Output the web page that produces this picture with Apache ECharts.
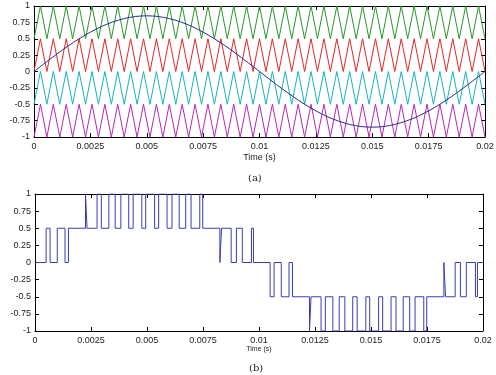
<!DOCTYPE html>
<html><head><meta charset="utf-8">
<script src="https://cdn.jsdelivr.net/npm/echarts@6/dist/echarts.min.js"></script>
<style>html,body{margin:0;padding:0;background:#fff}#c{width:496px;height:375px}</style>
</head><body><div id="c"></div>
<script>
// ---- tick labels ----
const xTickValues = [0, 0.0025, 0.005, 0.0075, 0.01, 0.0125, 0.015, 0.0175, 0.02];
const xTickLabels = ['0', '0.0025', '0.005', '0.0075', '0.01', '0.0125', '0.015', '0.0175', '0.02'];
const yTickValues = [-1, -0.75, -0.5, -0.25, 0, 0.25, 0.5, 0.75, 1];
const yTickLabels = ['-1', '-0.75', '-0.5', '-0.25', '0', '0.25', '0.5', '0.75', '1'];

// ---- (a) carriers: vertex times (valley, peak, valley, ...) ----
const carrierTimes = [0, 0.000286, 0.000571, 0.000857, 0.001143, 0.001429, 0.001714, 0.002,
  0.002286, 0.002571, 0.002857, 0.003143, 0.003429, 0.003714, 0.004,
  0.004286, 0.004571, 0.004857, 0.005143, 0.005429, 0.005714, 0.006,
  0.006286, 0.006571, 0.006857, 0.007143, 0.007429, 0.007714, 0.008,
  0.008286, 0.008571, 0.008857, 0.009143, 0.009429, 0.009714, 0.01,
  0.010286, 0.010571, 0.010857, 0.011143, 0.011429, 0.011714, 0.012,
  0.012286, 0.012571, 0.012857, 0.013143, 0.013429, 0.013714, 0.014,
  0.014286, 0.014571, 0.014857, 0.015143, 0.015429, 0.015714, 0.016,
  0.016286, 0.016571, 0.016857, 0.017143, 0.017429, 0.017714, 0.018,
  0.018286, 0.018571, 0.018857, 0.019143, 0.019429, 0.019714, 0.02];
// [valley, peak] of each carrier band
const carrierGreen = [0.5, 1];
const carrierRed = [0, 0.5];
const carrierCyan = [-0.5, 0];
const carrierMagenta = [-1, -0.5];

// ---- (a) reference sine ----
const sineTimes = [0, 0.0005, 0.001, 0.0015, 0.002, 0.0025, 0.003, 0.0035, 0.004, 0.0045,
  0.005, 0.0055, 0.006, 0.0065, 0.007, 0.0075, 0.008, 0.0085, 0.009, 0.0095,
  0.01, 0.0105, 0.011, 0.0115, 0.012, 0.0125, 0.013, 0.0135, 0.014, 0.0145,
  0.015, 0.0155, 0.016, 0.0165, 0.017, 0.0175, 0.018, 0.0185, 0.019, 0.0195, 0.02];
const sineValues = [0, 0.133, 0.263, 0.386, 0.5, 0.601, 0.688, 0.757, 0.808, 0.840,
  0.85, 0.840, 0.808, 0.757, 0.688, 0.601, 0.5, 0.386, 0.263, 0.133,
  0, -0.133, -0.263, -0.386, -0.5, -0.601, -0.688, -0.757, -0.808, -0.840,
  -0.85, -0.840, -0.808, -0.757, -0.688, -0.601, -0.5, -0.386, -0.263, -0.133, 0];

// ---- (b) output voltage: switching instants and level held after each ----
const outTimes = [0, 0.000497, 0.000673, 0.000994, 0.001340, 0.001494,
  0.002255, 0.002324, 0.002771, 0.002960, 0.003297, 0.003581, 0.003833, 0.004184,
  0.004381, 0.004770, 0.004943, 0.005340, 0.005521, 0.005895, 0.006116, 0.006437,
  0.006727, 0.006967, 0.007356, 0.007488,
  0.008254, 0.008328, 0.008757, 0.008992, 0.009255, 0.009663, 0.009753,
  0.010497, 0.010673, 0.010994, 0.011340, 0.011494,
  0.012255, 0.012324, 0.012771, 0.012960, 0.013297, 0.013581, 0.013833, 0.014184,
  0.014381, 0.014770, 0.014943, 0.015340, 0.015521, 0.015895, 0.016116, 0.016437,
  0.016727, 0.016967, 0.017356, 0.017488,
  0.018254, 0.018328, 0.018757, 0.018992, 0.019255, 0.019663, 0.019753, 0.02];
const outValues = [0, 0.5, 0, 0.5, 0, 0.5,
  1, 0.5, 1, 0.5, 1, 0.5, 1, 0.5,
  1, 0.5, 1, 0.5, 1, 0.5, 1, 0.5,
  1, 0.5, 1, 0.5,
  0, 0.5, 0, 0.5, 0, 0.5, 0,
  -0.5, 0, -0.5, 0, -0.5,
  -1, -0.5, -1, -0.5, -1, -0.5, -1, -0.5,
  -1, -0.5, -1, -0.5, -1, -0.5, -1, -0.5,
  -1, -0.5, -1, -0.5,
  0, -0.5, 0, -0.5, 0, -0.5, 0, 0];

const FONT = 'Liberation Sans, Arial, sans-serif';
const carrierData = lv => carrierTimes.map((t, i) => [t, lv[i % 2]]);
const fmtX = v => { const i = xTickValues.findIndex(x => Math.abs(x - v) < 1e-9); return i >= 0 ? xTickLabels[i] : ''; };
const fmtY = v => { const i = yTickValues.findIndex(y => Math.abs(y - v) < 1e-9); return i >= 0 ? yTickLabels[i] : ''; };

function xAx(grid, main, labelSize, name, nameSize, nameGap) {
  return {
    type: 'value', gridIndex: grid, min: 0, max: 0.02, interval: 0.0025,
    position: main ? 'bottom' : 'top',
    axisLine: { show: true, onZero: false, lineStyle: { color: '#000', width: 1 } },
    axisTick: { show: true, inside: true, length: 4, lineStyle: { color: '#000' } },
    axisLabel: { show: main, formatter: fmtX, fontSize: labelSize, color: '#222', fontFamily: FONT, margin: 5 },
    splitLine: { show: false },
    name: main ? name : '', nameLocation: 'middle', nameGap: nameGap,
    nameTextStyle: { fontSize: nameSize, color: '#222', fontFamily: FONT }
  };
}
function yAx(grid, main, labelSize, name, nameSize, nameGap) {
  return {
    type: 'value', gridIndex: grid, min: -1, max: 1, interval: 0.25,
    position: main ? 'left' : 'right',
    axisLine: { show: true, onZero: false, lineStyle: { color: '#000', width: 1 } },
    axisTick: { show: true, inside: true, length: 4, lineStyle: { color: '#000' } },
    axisLabel: { show: main, formatter: fmtY, fontSize: labelSize, color: '#222', fontFamily: FONT, margin: 4 },
    splitLine: { show: false },
    name: main ? name : '', nameLocation: 'middle', nameGap: nameGap, nameRotate: 90,
    nameTextStyle: { fontSize: nameSize, color: '#222', fontFamily: FONT }
  };
}
function line(xi, yi, data, color, extra) {
  return Object.assign({ type: 'line', xAxisIndex: xi, yAxisIndex: yi, data: data, symbol: 'none',
    lineStyle: { color: color, width: 1 }, itemStyle: { color: color }, animation: false, silent: true }, extra || {});
}

const chart = echarts.init(document.getElementById('c'), null, { renderer: 'canvas' });
chart.setOption({
  backgroundColor: '#fff',
  animation: false,
  title: [
    { text: '(a)', left: 243, top: 168, textStyle: { fontSize: 10, fontWeight: 'normal', color: '#222', fontFamily: 'DejaVu Serif, serif' } },
    { text: '(b)', left: 244, top: 358, textStyle: { fontSize: 10, fontWeight: 'normal', color: '#222', fontFamily: 'DejaVu Serif, serif' } }
  ],
  grid: [
    { left: 34, right: 11, top: 6, height: 131, containLabel: false, outerBoundsMode: 'none' },
    { left: 35, right: 13, top: 194, height: 137, containLabel: false, outerBoundsMode: 'none' }
  ],
  xAxis: [
    xAx(0, true, 9, 'Time (s)', 9, 16),
    xAx(0, false, 9, '', 9, 16),
    xAx(1, true, 9, 'Time (s)', 7, 13),
    xAx(1, false, 9, '', 7, 13)
  ],
  yAxis: [
    yAx(0, true, 9, 'Magnitude (pu)', 9, 27),
    yAx(0, false, 9, '', 9, 27),
    yAx(1, true, 9, 'Output Voltage (pu)', 7, 28),
    yAx(1, false, 9, '', 7, 28)
  ],
  series: [
    line(0, 0, carrierData(carrierGreen), '#2a962a'),
    line(0, 0, carrierData(carrierRed), '#e02828'),
    line(0, 0, carrierData(carrierCyan), '#1ab4b4'),
    line(0, 0, carrierData(carrierMagenta), '#b42ab4'),
    line(0, 0, sineTimes.map((t, i) => [t, sineValues[i]]), '#2a2a90', { smooth: 0.3 }),
    line(2, 2, outTimes.map((t, i) => [t, outValues[i]]), '#3c3cb0', { step: 'end' })
  ]
});
</script></body></html>
